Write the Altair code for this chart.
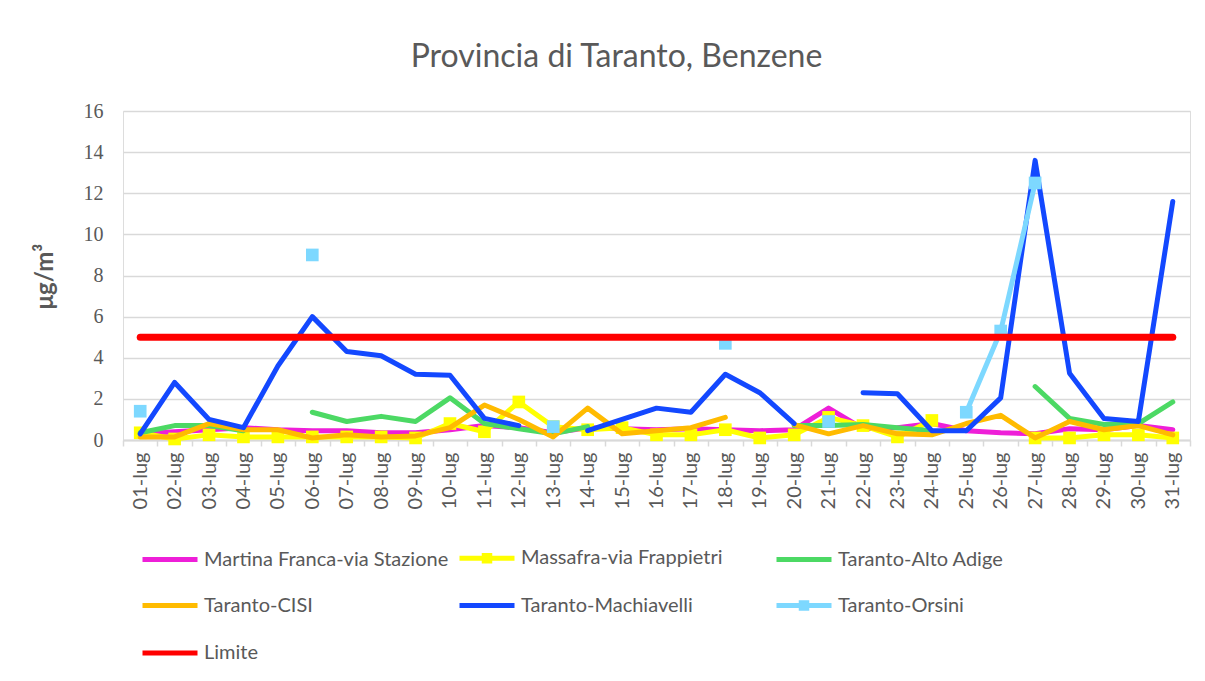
import altair as alt
import pandas as pd

days = ["01-lug", "02-lug", "03-lug", "04-lug", "05-lug", "06-lug", "07-lug", "08-lug",
        "09-lug", "10-lug", "11-lug", "12-lug", "13-lug", "14-lug", "15-lug", "16-lug",
        "17-lug", "18-lug", "19-lug", "20-lug", "21-lug", "22-lug", "23-lug", "24-lug",
        "25-lug", "26-lug", "27-lug", "28-lug", "29-lug", "30-lug", "31-lug"]

series_names = ["Martina Franca-via Stazione", "Massafra-via Frappietri", "Taranto-Alto Adige",
                "Taranto-CISI", "Taranto-Machiavelli", "Taranto-Orsini", "Limite"]
series_colors = ["#EE1FD8", "#FFFF00", "#4CD964", "#FFBB00", "#1348FF", "#7DD8FF", "#FF0000"]

martina = [0.3, 0.4, 0.5, 0.6, 0.5, 0.45, 0.45, 0.35, 0.35, 0.5, 0.7, 0.6, 0.35, 0.6, 0.55, 0.5,
           0.55, 0.5, 0.45, 0.5, 1.55, 0.55, 0.6, 0.8, 0.45, 0.35, 0.3, 0.55, 0.5, 0.7, 0.5]
massafra = [0.35, 0.05, 0.25, 0.15, 0.15, 0.15, 0.15, 0.15, 0.1, 0.8, 0.4, 1.85, 0.65, 0.5, 0.6, 0.25,
            0.25, 0.5, 0.1, 0.25, 1.1, 0.7, 0.15, 0.95, None, None, 0.1, 0.1, 0.25, 0.25, 0.1]
alto_adige = [0.35, 0.7, 0.7, 0.45, None, 1.35, 0.9, 1.15, 0.9, 2.05, 0.8, 0.55, 0.3, 0.65, None, None,
              None, None, None, 0.7, 0.7, 0.75, 0.6, 0.45, None, None, 2.6, 1.05, 0.75, 0.8, 1.85]
cisi = [0.15, 0.15, 0.8, 0.5, 0.5, 0.1, 0.25, 0.15, 0.2, 0.6, 1.7, 1.0, 0.15, 1.55, 0.3, 0.45,
        0.6, 1.1, None, 0.75, 0.3, 0.7, 0.3, 0.25, 0.8, 1.2, 0.1, 0.9, 0.5, 0.7, 0.25]
machiavelli = [0.3, 2.8, 1.0, 0.6, 3.6, 6.0, 4.3, 4.1, 3.2, 3.15, 1.05, 0.7, None, 0.45, 1.0, 1.55,
               1.35, 3.2, 2.3, 0.8, None, 2.3, 2.25, 0.45, 0.45, 2.05, 13.6, 3.25, 1.05, 0.9, 11.6]
orsini = [1.4, None, None, None, None, 9.0, None, None, None, None, None, None, 0.65, None, None, None,
          None, 4.7, None, None, 0.9, None, None, None, 1.35, 5.3, 12.5, None, None, None, None]
limite = [5] * 31

all_values = [martina, massafra, alto_adige, cisi, machiavelli, orsini, limite]

rows = []
for name, vals in zip(series_names, all_values):
    for d, v in zip(days, vals):
        rows.append({"day": d, "series": name, "value": v})
df = pd.DataFrame(rows)

legend_df = pd.DataFrame({"entry": series_names})

GREY = "#595959"
FONT = "Lato"

color_scale = alt.Scale(domain=series_names, range=series_colors)

x_enc = alt.X("day:N", sort=days, bandPosition=0.5,
              scale=alt.Scale(type="band", paddingInner=0, paddingOuter=0),
              axis=alt.Axis(title=None, labelAngle=270, labelFont=FONT, labelFontSize=20,
                            labelColor=GREY, labelPadding=6, tickBand="extent", ticks=True,
                            tickSize=6, tickColor="#D9D9D9", tickWidth=1.5,
                            domainColor="#D9D9D9", domainWidth=2, grid=False))
y_enc = alt.Y("value:Q", scale=alt.Scale(domain=[0, 16], nice=False, zero=True),
              axis=alt.Axis(values=[0, 2, 4, 6, 8, 10, 12, 14, 16], grid=True,
                            gridColor="#D9D9D9", gridWidth=1.5, domain=False, ticks=False,
                            labelFont="Liberation Serif", labelFontSize=20, labelColor=GREY,
                            labelPadding=20, title="μg/m³", titleFont=FONT,
                            titleFontWeight="bold", titleFontSize=24, titleColor=GREY,
                            titleAngle=270, titleX=-78, titleY=165, titleAlign="center",
                            titleBaseline="middle"))
col_enc = alt.Color("series:N", scale=color_scale, legend=None)

base = alt.Chart(df)

def lines(names, width=5):
    return base.transform_filter(
        alt.FieldOneOfPredicate(field="series", oneOf=names)
    ).mark_line(strokeWidth=width, strokeCap="round", strokeJoin="round",
                invalid="break-paths-filter-domains").encode(x=x_enc, y=y_enc, color=col_enc)

def squares(name):
    return base.transform_filter(alt.datum.series == name).mark_square(
        size=160, opacity=1).encode(x=x_enc, y=y_enc, color=col_enc)

data_layers = alt.layer(
    lines(series_names[0:2]),
    squares(series_names[1]),
    lines(series_names[2:6]),
    squares(series_names[5]),
    lines(series_names[6:7], width=7),
)

line_path = "M-1,0L1,0"
marker_path = "M-1,0L1,0M-0.1,-0.1L0.1,-0.1L0.1,0.1L-0.1,0.1Z"
shape_range = [line_path, marker_path, line_path, line_path, line_path, marker_path, line_path]

leg = alt.Legend(orient="none", legendX=17, legendY=417, columns=3, direction="horizontal",
                 title=None, symbolSize=3025, symbolStrokeWidth=5, symbolOpacity=1,
                 labelFont=FONT, labelFontSize=20, labelColor=GREY, labelOffset=4,
                 labelLimit=400, gridAlign="all", columnPadding=0, rowPadding=4.5)

legend_layer = alt.Chart(legend_df).mark_point(filled=False, strokeWidth=5, opacity=0).encode(
    color=alt.Color("entry:N", scale=alt.Scale(domain=series_names, range=series_colors), legend=leg),
    shape=alt.Shape("entry:N", scale=alt.Scale(domain=series_names, range=shape_range), legend=leg),
)

chart = alt.layer(data_layers, legend_layer).resolve_scale(
    color="independent", shape="independent"
).properties(
    width=1067, height=329,
    title=alt.TitleParams("Provincia di Taranto, Benzene", font=FONT, fontSize=32,
                          fontWeight="normal", color=GREY, anchor="middle", dx=-40, offset=27),
    autosize=alt.AutoSizeParams(type="none"),
    padding={"left": 115, "top": 103, "right": 7, "bottom": 225},
).configure_view(stroke=None).configure(background="white")

chart.save("out.html", embed_options={"renderer": "svg", "actions": False})
